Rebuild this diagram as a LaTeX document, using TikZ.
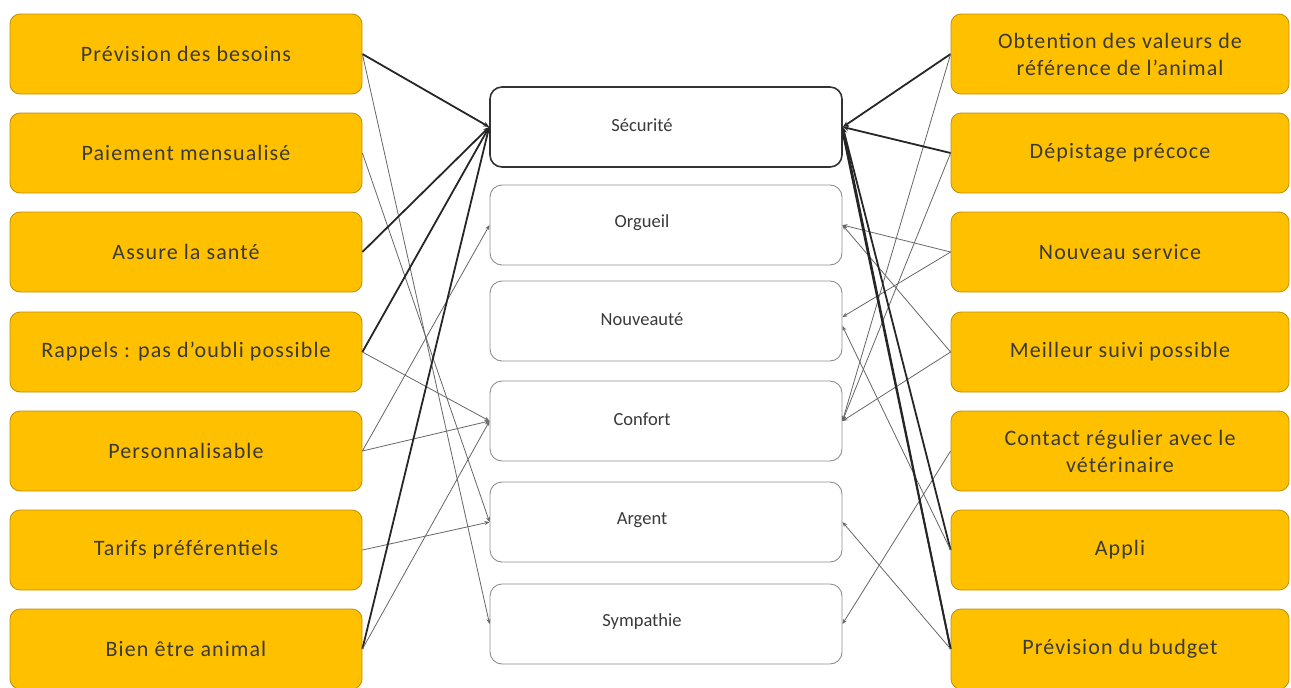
\documentclass[tikz,border=0pt]{standalone}
\usepackage{fontspec}
\setmainfont{Carlito}
\newfontfamily\spacedfont[LetterSpace=5]{Carlito}
\usetikzlibrary{arrows.meta}
\definecolor{gold}{HTML}{FFC000}
\definecolor{goldedge}{HTML}{BF9000}
\definecolor{ink}{HTML}{3A3A3A}
\definecolor{boxedge}{HTML}{8F8F8F}
\begin{document}
\begin{tikzpicture}[x=1pt,y=-1pt,
  attr/.style={draw=goldedge, fill=gold, rounded corners=10pt, line width=0.8pt,
    minimum height=80pt, inner sep=0pt, text=ink, align=center,
    font=\spacedfont\fontsize{22}{27}\selectfont},
  leftattr/.style={attr, minimum width=352pt},
  rightattr/.style={attr, minimum width=338pt},
  value/.style={draw=boxedge, fill=white, rounded corners=12pt, line width=0.9pt,
    minimum width=352pt, minimum height=80pt, inner sep=0pt,
    label={[text=ink, font=\fontsize{18.5}{22}\selectfont, xshift=-24pt, yshift=2pt]center:#1}},
  mainvalue/.style={value=#1, draw=black!80, line width=1.6pt},
  strong/.style={draw=black!85, line width=1.8pt, -{Stealth[length=6pt,width=5pt]}},
  weak/.style={draw=black!60, line width=0.8pt, -{Stealth[length=5pt,width=4pt]}}]

\useasboundingbox (0,0) rectangle (1291,688);

% attributes on the left
\node[leftattr] (besoins)  at (186,54)  {Prévision des besoins};
\node[leftattr] (paiement) at (186,153) {Paiement mensualisé};
\node[leftattr] (sante)    at (186,252) {Assure la santé};
\node[leftattr] (rappels)  at (186,352) {Rappels : pas d’oubli possible};
\node[leftattr] (perso)    at (186,451) {Personnalisable};
\node[leftattr] (tarifs)   at (186,550) {Tarifs préférentiels};
\node[leftattr] (bienetre) at (186,649) {Bien être animal};

% values in the middle
\node[mainvalue=Sécurité] (secu) at (666,127) {};
\node[value=Orgueil]   (orgueil) at (666,225) {};
\node[value=Nouveauté] (nouveau) at (666,321) {};
\node[value=Confort]   (confort) at (666,421) {};
\node[value=Argent]    (argent)  at (666,522) {};
\node[value=Sympathie] (sympa)   at (666,624) {};

% attributes on the right
\node[rightattr] (valeurs) at (1120,54)  {Obtention des valeurs de\\référence de l’animal};
\node[rightattr] (depist)  at (1120,153) {Dépistage précoce};
\node[rightattr] (service) at (1120,252) {Nouveau service};
\node[rightattr] (suivi)   at (1120,352) {Meilleur suivi possible};
\node[rightattr] (contact) at (1120,451) {Contact régulier avec le\\vétérinaire};
\node[rightattr] (appli)   at (1120,550) {Appli};
\node[rightattr] (budget)  at (1120,649) {Prévision du budget};

% links from the left attributes
\draw[strong] (besoins.east)  -- (secu.west);
\draw[weak]   (besoins.east)  -- (sympa.west);
\draw[weak]   (paiement.east) -- (argent.west);
\draw[strong] (sante.east)    -- (secu.west);
\draw[strong] (rappels.east)  -- (secu.west);
\draw[weak]   (rappels.east)  -- (confort.west);
\draw[weak]   (perso.east)    -- (confort.west);
\draw[weak]   (perso.east)    -- (orgueil.west);
\draw[weak]   (tarifs.east)   -- (argent.west);
\draw[strong] (bienetre.east) -- (secu.west);
\draw[weak]   (bienetre.east) -- (confort.west);

% links from the right attributes
\draw[strong] (valeurs.west) -- (secu.east);
\draw[weak]   (valeurs.west) -- (confort.east);
\draw[strong] (depist.west)  -- (secu.east);
\draw[weak]   (depist.west)  -- (confort.east);
\draw[weak]   (service.west) -- (orgueil.east);
\draw[weak]   (service.west) -- ([yshift=4pt]nouveau.east);
\draw[weak]   (suivi.west)   -- (orgueil.east);
\draw[weak]   (suivi.west)   -- (confort.east);
\draw[weak]   (contact.west) -- (sympa.east);
\draw[strong] (appli.west)   -- (secu.east);
\draw[weak]   (appli.west)   -- ([yshift=-5pt]nouveau.east);
\draw[strong] (budget.west)  -- (secu.east);
\draw[strong] (budget.west)  -- ([yshift=-6pt]secu.east);
\draw[weak]   (budget.west)  -- (argent.east);
\end{tikzpicture}
\end{document}
